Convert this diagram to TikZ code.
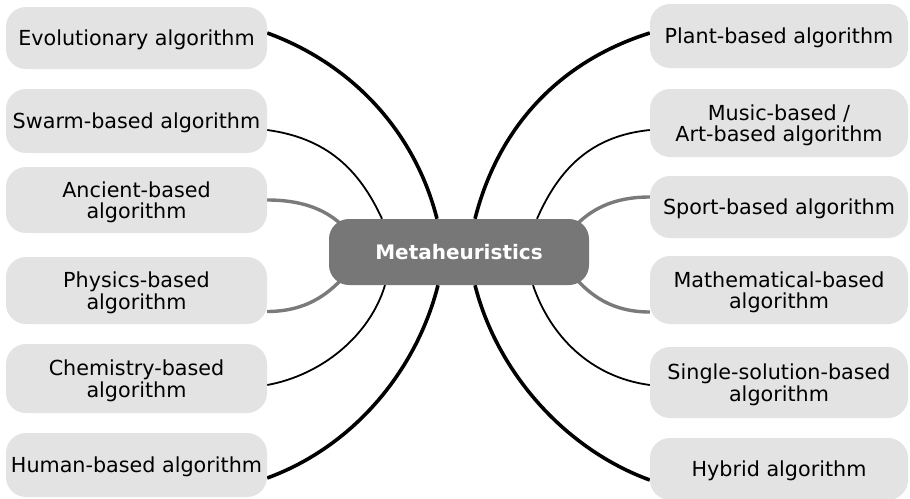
\documentclass[tikz,border=0pt]{standalone}
\usepackage{fontspec}
\setmainfont{DejaVu Sans}
\usetikzlibrary{backgrounds}
\definecolor{boxgray}{HTML}{E3E3E3}
\definecolor{hubgray}{HTML}{777777}
\definecolor{linkgray}{HTML}{7A7A7A}
\begin{document}
\begin{tikzpicture}[x=1pt,y=-1pt,
 leaf/.style={rectangle, rounded corners=20pt, fill=boxgray, minimum width=261pt, inner sep=2pt, align=center, text depth=0pt, font=\fontsize{20.7}{21.5}\selectfont, text=black},
 rleaf/.style={leaf, minimum width=258pt},
 hub/.style={rectangle, rounded corners=20pt, fill=hubgray, minimum width=260pt, minimum height=66pt, font=\fontsize{20}{22}\selectfont\bfseries, text=white},
 heavy/.style={line width=3.6pt, black},
 light/.style={line width=1.8pt, black},
 grayl/.style={line width=3.4pt, linkgray}]
\useasboundingbox (0,0) rectangle (910,498);
\node[hub] (cen) at (459,252) {Metaheuristics};
% left
\node[leaf, minimum height=62pt] (ev) at (136.5,38) {Evolutionary algorithm};
\node[leaf, minimum height=64pt] (sw) at (136.5,121) {Swarm-based algorithm};
\node[leaf, minimum height=66pt] (an) at (136.5,200) {Ancient-based\\algorithm};
\node[leaf, minimum height=67pt] (ph) at (136.5,290.5) {Physics-based\\algorithm};
\node[leaf, minimum height=69pt] (ch) at (136.5,378.5) {Chemistry-based\\algorithm};
\node[leaf, minimum height=64pt] (hu) at (136.5,465) {Human-based algorithm};
% right
\node[rleaf, minimum height=64pt] (pl) at (779,36) {Plant-based algorithm};
\node[rleaf, minimum height=68pt] (mu) at (779,123) {Music-based /\\Art-based algorithm};
\node[rleaf, minimum height=62pt] (sp) at (779,207) {Sport-based algorithm};
\node[rleaf, minimum height=68pt] (ma) at (779,290) {Mathematical-based\\algorithm};
\node[rleaf, minimum height=71pt] (si) at (779,382.5) {Single-solution-based\\algorithm};
\node[rleaf, minimum height=62pt] (hy) at (779,469) {Hybrid algorithm};
\begin{pgfonlayer}{background}
\draw[heavy] ([yshift=5pt]ev.east) .. controls +(85,31) and +(-22,-87) .. ([xshift=-22pt]cen.north);
\draw[light] ([yshift=-9pt]sw.east) .. controls +(59,8) and +(-23,-50) .. ([xshift=-77pt]cen.north);
\draw[grayl] (an.east) .. controls +(45,0) and +(-12,-12) .. ([xshift=-114pt,yshift=24pt]cen.center);
\draw[grayl] ([yshift=-21pt]ph.east) .. controls +(45,0) and +(-12,12) .. ([xshift=-114pt,yshift=-24pt]cen.center);
\draw[light] ([yshift=-6.5pt]ch.east) .. controls +(55,-10) and +(-15,50) .. ([xshift=-74pt]cen.south);
\draw[heavy] ([yshift=-13pt]hu.east) .. controls +(85,-31) and +(-22,87) .. ([xshift=-21pt]cen.south);
\draw[heavy] ([yshift=3pt]pl.west) .. controls +(-95,30) and +(22,-87) .. ([xshift=16pt]cen.north);
\draw[light] ([yshift=-7pt]mu.west) .. controls +(-59,6) and +(22,-50) .. ([xshift=78pt]cen.north);
\draw[grayl] ([yshift=10pt]sp.west) .. controls +(-45,0) and +(12,-12) .. ([xshift=114pt,yshift=24pt]cen.center);
\draw[grayl] ([yshift=-22pt]ma.west) .. controls +(-45,0) and +(12,12) .. ([xshift=114pt,yshift=-24pt]cen.center);
\draw[light] ([yshift=-2.5pt]si.west) .. controls +(-60,-8) and +(17,50) .. ([xshift=74pt]cen.south);
\draw[heavy] ([yshift=-11pt]hy.west) .. controls +(-85,-31) and +(22,87) .. ([xshift=16pt]cen.south);
\end{pgfonlayer}
\end{tikzpicture}
\end{document}
